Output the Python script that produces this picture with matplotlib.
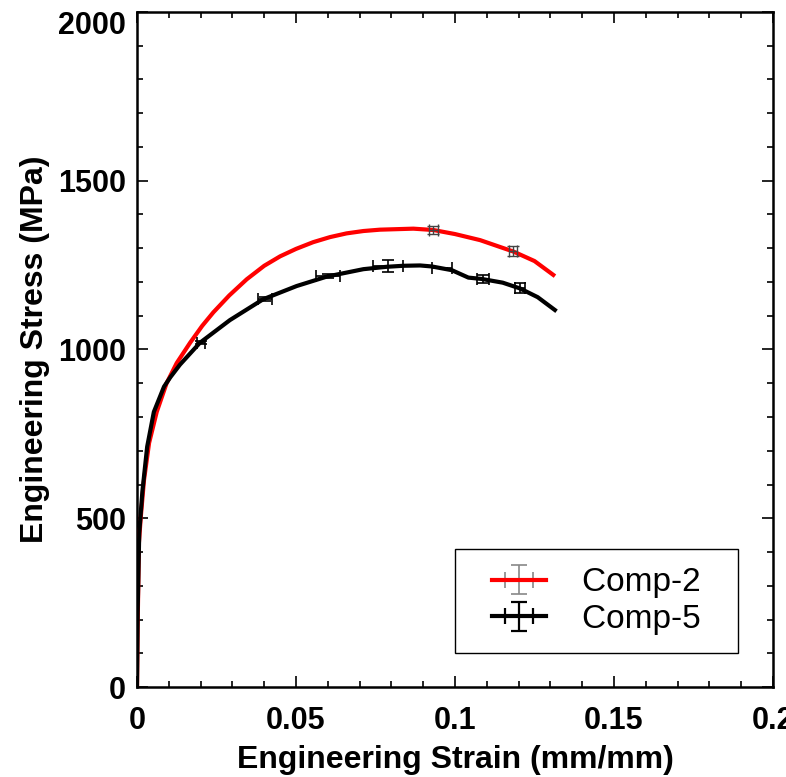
import matplotlib
matplotlib.use("Agg")
import numpy as np
from matplotlib import pyplot as plt
from matplotlib.ticker import MultipleLocator
from matplotlib.transforms import ScaledTranslation
from matplotlib.legend_handler import HandlerErrorbar

# Comp-2 curve (strain, stress)
comp2_strain = [0, 0.0002, 0.0006, 0.0012, 0.0022, 0.0038, 0.0062, 0.0093, 0.0125, 0.0167,
                0.0205, 0.024, 0.029, 0.0345, 0.04, 0.045, 0.05, 0.0554, 0.0607, 0.0659,
                0.0712, 0.0764, 0.0869, 0.0932, 0.1, 0.1079, 0.1184, 0.125, 0.1309]
comp2_stress = [0, 178, 427, 505, 613, 723, 815, 900, 960, 1020,
                1070, 1110, 1160, 1208, 1248, 1276, 1298, 1318, 1333, 1344,
                1351, 1355, 1358, 1354, 1342, 1324, 1290, 1262, 1221]

# Comp-5 curve
comp5_strain = [0, 0.0002, 0.0007, 0.0017, 0.0032, 0.0053, 0.0085, 0.0105, 0.0135, 0.0198,
                0.0292, 0.0397, 0.0502, 0.0597, 0.0712, 0.0785, 0.0837, 0.089, 0.0927, 0.099,
                0.1042, 0.1084, 0.115, 0.1204, 0.126, 0.1314]
comp5_stress = [0, 220, 456, 580, 712, 815, 890, 918, 955, 1020,
                1087, 1149, 1188, 1216, 1238, 1245, 1248, 1249, 1246, 1235,
                1213, 1209, 1198, 1181, 1155, 1117]

# error bars
comp2_err_x = [0.0932, 0.1182]
comp2_err_y = [1354, 1292]
comp2_xerr = [0.0013, 0.0013]
comp2_yerr = [12, 14]

comp5_err_x = [0.0201, 0.0403, 0.0601, 0.079, 0.0959, 0.1087, 0.1204]
comp5_err_y = [1020, 1150, 1218, 1247, 1242, 1209, 1181]
comp5_xerr = [0.0013, 0.0022, 0.0037, 0.0047, 0.0031, 0.0019, 0.0015]
comp5_yerr = [5, 5, 6, 18, 0, 13, 15]

labels = ["Comp-2", "Comp-5"]

fnt = ["Liberation Sans", "DejaVu Sans"]

fig = plt.figure(figsize=(7.86, 7.77), dpi=100)
ax = fig.add_axes([0.1743, 0.1158, 0.8092, 0.8688])

ax.plot(comp2_strain, comp2_stress, color="red", lw=3, zorder=3)
ax.plot(comp5_strain, comp5_stress, color="black", lw=3, zorder=3)
ax.errorbar(comp2_err_x, comp2_err_y, xerr=comp2_xerr, yerr=comp2_yerr, fmt="none",
            ecolor="#444444", elinewidth=1, capsize=4.5, capthick=1, zorder=4)
ax.errorbar(comp5_err_x, comp5_err_y, xerr=comp5_xerr, yerr=comp5_yerr, fmt="none",
            ecolor="black", elinewidth=1.2, capsize=4.3, capthick=1.2, zorder=4)

# legend proxies (nothing drawn in the axes)
h2 = ax.errorbar([np.nan], [np.nan], xerr=[1], yerr=[1], color="red", lw=3,
                 ecolor="#888888", elinewidth=1.2, capsize=5.5, capthick=1.2)
h5 = ax.errorbar([np.nan], [np.nan], xerr=[1], yerr=[1], color="black", lw=3,
                 ecolor="black", elinewidth=1.6, capsize=5.5, capthick=1.6)
leg = ax.legend([h2, h5], [s + "  " for s in labels], loc="lower right",
                bbox_to_anchor=(0.945, 0.05), fancybox=False, edgecolor="black",
                framealpha=1, prop={"family": "Liberation Sans", "size": 24},
                handlelength=1.6 + 0.58, handletextpad=1.1, borderpad=0.55, labelspacing=0.17,
                borderaxespad=0,
                handler_map={type(h2): HandlerErrorbar(xerr_size=0.43, yerr_size=0.44, xpad=0.58)})
leg.get_frame().set_linewidth(1.0)

ax.set_xlim(0, 0.2)
ax.set_ylim(0, 2000)
ax.xaxis.set_minor_locator(MultipleLocator(0.01))
ax.yaxis.set_minor_locator(MultipleLocator(100))
ax.set_xticks([0, 0.05, 0.1, 0.15, 0.2])
ax.set_xticklabels(["0", "0.05", "0.1", "0.15", "0.2"])
ax.set_yticks([0, 500, 1000, 1500, 2000])
ax.set_yticklabels(["0", "500", "1000", "1500", "2000"])
ax.tick_params(which="both", direction="in", top=True, right=True, width=1.2)
ax.tick_params(which="major", length=8, labelsize=22)
ax.tick_params(axis="x", which="major", pad=14)
ax.tick_params(axis="y", which="major", pad=8)
ax.tick_params(which="minor", length=4)
for lab in ax.get_xticklabels() + ax.get_yticklabels():
    lab.set_family(fnt)
    lab.set_fontweight("bold")
# top label sits a bit lower in the original
top = ax.get_yticklabels()[-1]
top.set_transform(top.get_transform() + ScaledTranslation(0, -0.11, fig.dpi_scale_trans))
for sp in ax.spines.values():
    sp.set_linewidth(1.8)

ax.set_xlabel("Engineering Strain (mm/mm)", family=fnt, fontweight="bold", fontsize=23, labelpad=6)
ax.set_ylabel("Engineering Stress (MPa)", family=fnt, fontweight="bold", fontsize=23, labelpad=6)

fig.savefig("out.png", dpi=100, facecolor="w")
